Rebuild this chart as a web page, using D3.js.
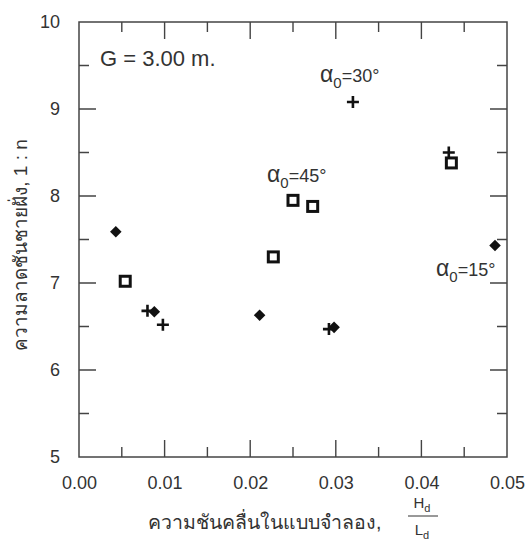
<!DOCTYPE html>
<html>
<head>
<meta charset="utf-8">
<script src="https://cdn.jsdelivr.net/npm/d3@7"></script>
<style>
  body { margin: 0; background: #fff; }
  text { font-family: "Liberation Sans", Arial, sans-serif; fill: #333; }
</style>
</head>
<body>
<svg id="chart" width="531" height="559"></svg>
<script>
// data
const diamondX = [0.0043, 0.0088, 0.0211, 0.0298, 0.0486];
const diamondY = [7.59, 6.67, 6.63, 6.49, 7.43];
const plusX = [0.0080, 0.0098, 0.0292, 0.0320, 0.0432];
const plusY = [6.68, 6.52, 6.47, 9.08, 8.50];
const squareX = [0.0054, 0.0227, 0.0250, 0.0273, 0.0435];
const squareY = [7.02, 7.30, 7.95, 7.88, 8.38];
const xTicks = [0, 0.01, 0.02, 0.03, 0.04, 0.05];
const yTicks = [5, 6, 7, 8, 9, 10];

// dimensions
const margin = {top: 22, right: 24, bottom: 102, left: 79};
const width = 531, height = 559;
const lineColour = "#444";
const majorLen = 17, minorLen = 10;

const svg = d3.select("#chart");

const x = d3.scaleLinear().domain([0, 0.05]).range([margin.left, width - margin.right]);
const y = d3.scaleLinear().domain([5, 10]).range([height - margin.bottom, margin.top]);

const xMinor = d3.range(0.005, 0.05, 0.01);
const yMinor = d3.range(5.5, 10, 1);

// frame
svg.append("rect")
  .attr("x", x(0)).attr("y", y(10))
  .attr("width", x(0.05) - x(0)).attr("height", y(5) - y(10))
  .attr("fill", "none").attr("stroke", lineColour).attr("stroke-width", 1.5);

// tick labels via axes (tick marks drawn below as paths)
const labelStyle = g => g
  .call(g => g.select(".domain").remove())
  .call(g => g.selectAll("line").remove())
  .call(g => g.selectAll("text").attr("font-size", "18px").attr("fill", "#333")
    .attr("font-family", "Liberation Sans, Arial, sans-serif"));

svg.append("g").attr("transform", `translate(0,${y(5)})`)
  .call(d3.axisBottom(x).tickValues(xTicks).tickFormat(d3.format(".2f")).tickSize(0).tickPadding(19))
  .call(labelStyle);
svg.append("g").attr("transform", `translate(${x(0)},0)`)
  .call(d3.axisLeft(y).tickValues(yTicks).tickFormat(d3.format("d")).tickSize(0).tickPadding(19))
  .call(labelStyle);

// inward ticks on all four sides
const xt = xTicks.slice(1, -1).map(v => ({v, len: majorLen})).concat(xMinor.map(v => ({v, len: minorLen})));
const yt = yTicks.slice(1, -1).map(v => ({v, len: majorLen})).concat(yMinor.map(v => ({v, len: minorLen})));

const tickPath = d3.path();
xt.forEach(d => {
  tickPath.moveTo(x(d.v), y(5)); tickPath.lineTo(x(d.v), y(5) - d.len);
  tickPath.moveTo(x(d.v), y(10)); tickPath.lineTo(x(d.v), y(10) + d.len);
});
yt.forEach(d => {
  tickPath.moveTo(x(0), y(d.v)); tickPath.lineTo(x(0) + d.len, y(d.v));
  tickPath.moveTo(x(0.05), y(d.v)); tickPath.lineTo(x(0.05) - d.len, y(d.v));
});
svg.append("path")
  .attr("d", tickPath.toString())
  .attr("fill", "none").attr("stroke", lineColour).attr("stroke-width", 1.4);

// markers
const diamonds = diamondX.map((d, i) => ({x: d, y: diamondY[i]}));
const pluses = plusX.map((d, i) => ({x: d, y: plusY[i]}));
const squares = squareX.map((d, i) => ({x: d, y: squareY[i]}));

svg.append("g").selectAll("path")
  .data(diamonds)
  .join("path")
  .attr("d", d3.symbol(d3.symbolDiamond2, 85))
  .attr("transform", d => `translate(${x(d.x)},${y(d.y)})`)
  .attr("fill", "#111");

svg.append("g").selectAll("path")
  .data(pluses)
  .join("path")
  .attr("d", "M-6,0H6M0,-6V6")
  .attr("transform", d => `translate(${x(d.x)},${y(d.y)})`)
  .attr("stroke", "#111").attr("stroke-width", 2.6).attr("fill", "none");

svg.append("g").selectAll("rect")
  .data(squares)
  .join("rect")
  .attr("x", d => x(d.x) - 5).attr("y", d => y(d.y) - 5)
  .attr("width", 10).attr("height", 10)
  .attr("fill", "#fff").attr("stroke", "#111").attr("stroke-width", 3);

// annotations
svg.append("text").attr("x", 100).attr("y", 66).attr("font-size", "22px").text("G = 3.00 m.");

const alphaLabel = (px, py, deg) => {
  const t = svg.append("text").attr("x", px).attr("y", py).attr("font-size", "18px");
  t.append("tspan").attr("font-size", "23px").text("α");
  t.append("tspan").attr("dy", 6).attr("font-size", "15px").text("0");
  t.append("tspan").attr("dy", -6).text("=" + deg + "°");
};
alphaLabel(320, 82, 30);
alphaLabel(267, 182, 45);
alphaLabel(436, 276, 15);

// axis titles
svg.append("text")
  .attr("transform", `translate(27,${245}) rotate(-90)`)
  .attr("text-anchor", "middle").attr("font-size", "19px")
  .text("ความลาดชันชายฝั่ง, 1 : n");

svg.append("text").attr("x", 148).attr("y", 529).attr("font-size", "19.5px")
  .text("ความชันคลื่นในแบบจำลอง,");

const frac = svg.append("g").attr("transform", "translate(422,0)");
frac.append("text").attr("x", 0).attr("y", 508).attr("text-anchor", "middle").attr("font-size", "15px")
  .html('H<tspan dy="4" font-size="11px">d</tspan>');
frac.append("path").attr("d", "M-14,516H16")
  .attr("stroke", "#333").attr("stroke-width", 1).attr("fill", "none");
frac.append("text").attr("x", 0).attr("y", 535).attr("text-anchor", "middle").attr("font-size", "15px")
  .html('L<tspan dy="4" font-size="11px">d</tspan>');
</script>
</body>
</html>
